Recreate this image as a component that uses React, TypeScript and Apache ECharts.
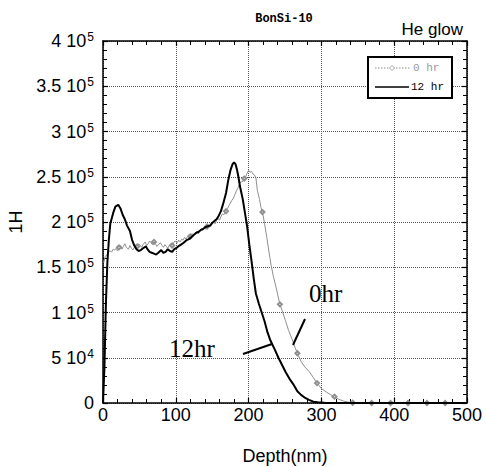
import React, { useEffect, useRef } from "react";
import * as echarts from "echarts";

// 0 hr (gray) profile
const depth0hr = [
  1, 3, 5, 7, 9, 12, 14, 16, 18, 20, 22, 24, 26, 28, 30, 32, 35, 37, 39, 41,
  43, 45, 47, 49, 51, 53, 55, 58, 60, 62, 64, 66, 68, 70, 72, 74, 76, 79, 81, 83,
  85, 87, 89, 91, 93, 95, 97, 99, 102, 104, 106, 108, 110, 112, 114, 116, 118, 120, 122, 125,
  127, 129, 131, 133, 135, 137, 139, 141, 143, 145, 148, 150, 152, 154, 156, 158, 160, 162, 164, 166,
  169, 171, 173, 175, 177, 179, 181, 183, 185, 187, 189, 192, 194, 196, 198, 200, 202, 204, 206, 208,
  210, 212, 215, 217, 219, 222, 225, 228, 231, 234, 238, 241, 243, 247, 251, 255, 260, 264, 267, 272,
  277, 283, 289, 294, 300, 307, 313, 318, 324, 331, 337, 343, 351, 369, 395, 419, 445, 470, 500,
];
const h0hr = [
  155000, 162000, 163000, 166000, 168000, 167000, 170000, 169000, 171000, 168000,
  172000, 174000, 170000, 173000, 176000, 172000, 170000, 174000, 171000, 169000,
  172000, 175000, 173000, 176000, 174000, 172000, 175000, 178000, 174000, 176000,
  179000, 177000, 175000, 178000, 176000, 173000, 175000, 177000, 174000, 172000,
  175000, 173000, 171000, 174000, 176000, 174000, 177000, 179000, 177000, 180000,
  178000, 181000, 180000, 183000, 181000, 184000, 186000, 184000, 187000, 185000,
  188000, 190000, 187000, 190000, 193000, 191000, 194000, 192000, 195000, 197000,
  195000, 198000, 200000, 198000, 202000, 204000, 202000, 206000, 209000, 208000,
  212000, 215000, 218000, 221000, 224000, 226000, 230000, 234000, 237000, 241000,
  244000, 245000, 248000, 250000, 254000, 257000, 255000, 256000, 253000, 252000,
  249000, 235000, 225000, 216000, 211000, 198000, 183000, 167000, 152000, 140000,
  127000, 116000, 109000, 100000, 90000, 80000, 70000, 61000, 55000, 46000,
  40000, 35000, 28000, 22000, 16000, 12000, 9000, 7000, 4000, 2000,
  1000, 300, 0, 0, 0, 0, 0, 0, 0,
];
const markerDepths0hr = [22, 47, 70, 95, 120, 143, 169, 194, 219, 243, 267, 294, 318, 343, 369, 395, 419, 445, 470];

// 12 hr (black) profile
const depth12hr = [
  0, 2, 4, 6, 8, 10, 14, 17, 21, 24, 27, 30, 33, 37, 40, 43, 46, 49, 52, 55,
  59, 61, 64, 67, 70, 73, 76, 80, 83, 86, 89, 92, 95, 98, 102, 105, 109, 112, 115, 118,
  121, 125, 128, 131, 134, 137, 140, 143, 147, 150, 153, 156, 159, 162, 165, 169, 172, 175, 178, 180,
  182, 184, 186, 188, 192, 195, 198, 201, 204, 207, 210, 214, 218, 222, 226, 230, 236, 241, 246, 251,
  256, 262, 267, 272, 277, 283, 289, 295, 304, 314, 400, 500,
];
const h12hr = [
  0, 40000, 110000, 155000, 180000, 198000, 210000, 217000, 219000, 215000,
  208000, 203000, 196000, 190000, 180000, 174000, 170000, 168000, 169000, 171000,
  173000, 170000, 167000, 166000, 165000, 164000, 166000, 169000, 166000, 167000,
  170000, 168000, 167000, 170000, 172000, 174000, 176000, 178000, 180000, 181000,
  183000, 186000, 188000, 189000, 191000, 192000, 194000, 195000, 196000, 199000,
  201000, 203000, 207000, 212000, 220000, 232000, 246000, 257000, 264000, 266000,
  264000, 258000, 250000, 240000, 225000, 210000, 195000, 175000, 157000, 138000,
  121000, 110000, 100000, 90000, 78000, 69000, 59000, 50000, 42000, 34000,
  27000, 20000, 13000, 9000, 6000, 3500, 1500, 800, 300, 0, 0, 0,
];

const seriesNames = ["0 hr", "12 hr"];
const xTickMax = 500;
const yTickMax = 400000;

const GRAY = "#8f8f8f";
const SANS = "Liberation Sans, Arial, sans-serif";
const SERIF = "Liberation Serif, Times New Roman, serif";
const MONO = "Liberation Mono, DejaVu Sans Mono, monospace";

function yLabel(v: number): string {
  if (v === 0) return "{m|0}";
  const exp = Math.floor(Math.log10(v) + 1e-9);
  const mant = +(v / Math.pow(10, exp)).toFixed(2);
  return `{m|${mant} 10}{e|${exp}}`;
}

export default function App() {
  const ref = useRef<HTMLDivElement>(null);
  useEffect(() => {
    if (!ref.current) return;
    const chart = echarts.init(ref.current, null, { renderer: "svg" });

    const grayData = depth0hr.map((d, i) => {
      const isMarker = markerDepths0hr.indexOf(d) >= 0;
      return isMarker
        ? { value: [d, h0hr[i]] }
        : { value: [d, h0hr[i]], symbol: "none" };
    });
    const blackData = depth12hr.map((d, i) => [d, h12hr[i]]);

    const frameLine = { show: true, onZero: false, lineStyle: { color: "#000", width: 1.5 } };
    const tick = { show: true, inside: true, length: 5, lineStyle: { color: "#000", width: 1.2 } };
    const minor = { show: true, splitNumber: 5, length: 4, lineStyle: { color: "#000", width: 1 } };
    const grid = { show: true, lineStyle: { color: "#555", type: "dotted", width: 1 } };

    const option: any = {
      animation: false,
      backgroundColor: "#fff",
      grid: { left: 103, right: 19, top: 41, bottom: 64, containLabel: false, outerBoundsMode: "none" },
      xAxis: [
        {
          type: "value",
          min: 0,
          max: xTickMax,
          interval: 100,
          position: "bottom",
          axisLine: frameLine,
          axisTick: tick,
          minorTick: minor,
          splitLine: grid,
          axisLabel: { fontSize: 18, color: "#000", fontFamily: SANS, margin: 3 },
          name: "Depth(nm)",
          nameLocation: "middle",
          nameGap: 44,
          nameTextStyle: { fontSize: 18, color: "#000", fontFamily: SANS },
        },
        {
          type: "value",
          min: 0,
          max: xTickMax,
          interval: 100,
          position: "top",
          axisLine: frameLine,
          axisTick: tick,
          minorTick: minor,
          splitLine: { show: false },
          axisLabel: { show: false },
        },
      ],
      yAxis: [
        {
          type: "value",
          min: 0,
          max: yTickMax,
          interval: 50000,
          position: "left",
          axisLine: frameLine,
          axisTick: tick,
          minorTick: minor,
          splitLine: grid,
          axisLabel: {
            margin: 9,
            formatter: yLabel,
            rich: {
              m: { fontSize: 18, color: "#000", fontFamily: SANS, lineHeight: 20 },
              e: { fontSize: 12, color: "#000", fontFamily: SANS, verticalAlign: "top", lineHeight: 12, padding: [0, 0, 0, 1] },
            },
          },
          name: "1H",
          nameLocation: "middle",
          nameGap: 71,
          nameRotate: 90,
          nameTextStyle: { fontSize: 18, color: "#000", fontFamily: SANS },
        },
        {
          type: "value",
          min: 0,
          max: yTickMax,
          interval: 50000,
          position: "right",
          axisLine: frameLine,
          axisTick: tick,
          minorTick: minor,
          splitLine: { show: false },
          axisLabel: { show: false },
        },
      ],
      series: [
        {
          type: "line",
          name: seriesNames[0],
          xAxisIndex: 0,
          yAxisIndex: 0,
          data: grayData,
          symbol: "emptyDiamond",
          symbolSize: 4,
          showSymbol: true,
          showAllSymbol: true,
          lineStyle: { color: GRAY, width: 1 },
          itemStyle: { color: GRAY, borderWidth: 0.8 },
          z: 2,
        },
        {
          type: "line",
          name: seriesNames[1],
          xAxisIndex: 0,
          yAxisIndex: 0,
          data: blackData,
          symbol: "none",
          showSymbol: false,
          lineStyle: { color: "#000", width: 2 },
          itemStyle: { color: "#000" },
          z: 3,
        },
      ],
      graphic: [
        {
          type: "text",
          x: 284,
          y: 19,
          style: { text: "BonSi-10", fontSize: 12, fontFamily: MONO, fill: "#000", align: "center", verticalAlign: "middle", fontWeight: "bold" },
        },
        {
          type: "text",
          x: 463,
          y: 29,
          style: { text: "He glow", fontSize: 17, fontFamily: SANS, fill: "#000", align: "right", verticalAlign: "middle" },
        },
        {
          type: "group",
          z: 30,
          children: [
            {
              type: "rect",
              shape: { x: 368, y: 57, width: 84, height: 41 },
              style: { fill: "#fff", stroke: "#000", lineWidth: 2 },
              z: 30,
            },
            {
              type: "line",
              shape: { x1: 375, y1: 68, x2: 410, y2: 68 },
              style: { stroke: GRAY, lineWidth: 1, lineDash: [1.5, 1.5] },
              z: 31,
            },
            {
              type: "polygon",
              shape: { points: [[392, 65.5], [394.5, 68], [392, 70.5], [389.5, 68]] },
              style: { fill: "#fff", stroke: GRAY, lineWidth: 0.8 },
              z: 32,
            },
            {
              type: "text",
              x: 413,
              y: 68,
              style: { text: seriesNames[0], fontSize: 11, fontFamily: MONO, fill: "#999", align: "left", verticalAlign: "middle" },
              z: 31,
            },
            {
              type: "line",
              shape: { x1: 375, y1: 87, x2: 409, y2: 87 },
              style: { stroke: "#000", lineWidth: 1.5 },
              z: 31,
            },
            {
              type: "text",
              x: 411,
              y: 87,
              style: { text: seriesNames[1], fontSize: 11, fontFamily: MONO, fill: "#000", align: "left", verticalAlign: "middle" },
              z: 31,
            },
          ],
        },
        {
          type: "text",
          x: 309,
          y: 293,
          style: { text: "0hr", fontSize: 25, fontFamily: SERIF, fill: "#000", align: "left", verticalAlign: "middle" },
          z: 20,
        },
        {
          type: "text",
          x: 169,
          y: 348,
          style: { text: "12hr", fontSize: 25, fontFamily: SERIF, fill: "#000", align: "left", verticalAlign: "middle" },
          z: 20,
        },
        {
          type: "line",
          shape: { x1: 305, y1: 319, x2: 293, y2: 345 },
          style: { stroke: "#000", lineWidth: 2 },
          z: 20,
        },
        {
          type: "line",
          shape: { x1: 243, y1: 354, x2: 272, y2: 344 },
          style: { stroke: "#000", lineWidth: 2 },
          z: 20,
        },
      ],
    };
    chart.setOption(option);
    return () => chart.dispose();
  }, []);
  return (
    <div
      ref={ref}
      style={{ position: "fixed", left: 0, top: 0, width: 486, height: 467, background: "#fff" }}
    />
  );
}
